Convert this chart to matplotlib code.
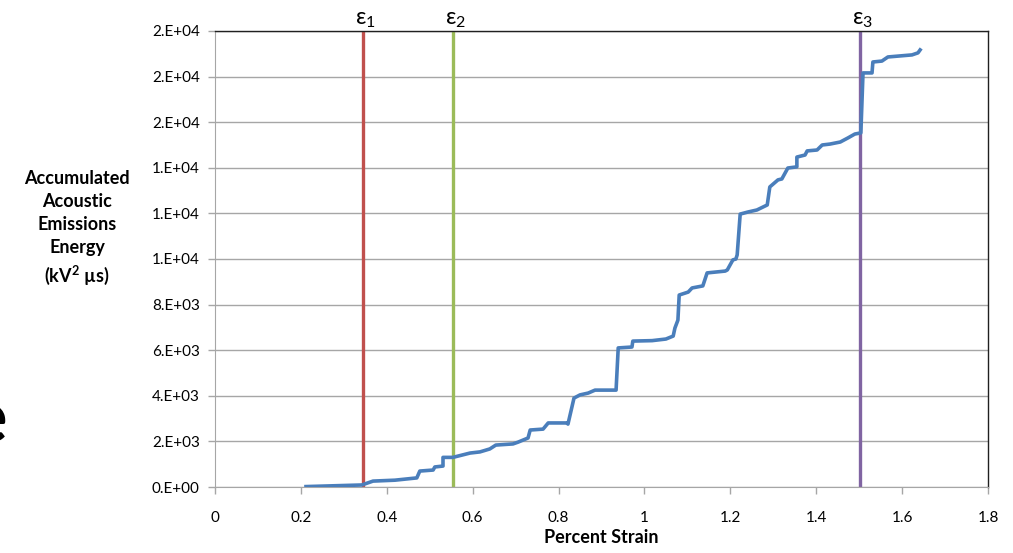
import matplotlib
matplotlib.use('Agg')
import matplotlib.pyplot as plt
import numpy as np

plt.rcParams['font.family'] = ['Lato', 'DejaVu Sans']

# accumulated AE energy vs strain
strain = [0.212, 0.342, 0.368, 0.419, 0.470, 0.477, 0.508, 0.512, 0.531, 0.531,
          0.554, 0.575, 0.594, 0.617, 0.640, 0.654, 0.694, 0.706, 0.729, 0.734,
          0.764, 0.776, 0.820, 0.822, 0.836, 0.850, 0.869, 0.885, 0.934, 0.939,
          0.971, 0.973, 1.018, 1.050, 1.067, 1.071, 1.078, 1.081, 1.102, 1.111,
          1.136, 1.146, 1.188, 1.193, 1.206, 1.213, 1.216, 1.223, 1.241, 1.262,
          1.286, 1.292, 1.311, 1.320, 1.334, 1.355, 1.355, 1.374, 1.379, 1.402,
          1.414, 1.432, 1.456, 1.474, 1.490, 1.504, 1.509, 1.530, 1.532, 1.553,
          1.567, 1.623, 1.637, 1.642]
energy = [20, 90, 260, 300, 400, 700, 745, 880, 920, 1300,
          1300, 1400, 1490, 1540, 1670, 1840, 1890, 1970, 2150, 2500,
          2540, 2810, 2810, 2760, 3900, 4040, 4120, 4250, 4250, 6100,
          6140, 6400, 6420, 6490, 6620, 6970, 7320, 8420, 8550, 8730,
          8820, 9390, 9470, 9520, 9960, 10000, 10180, 11970, 12060, 12150,
          12370, 13160, 13470, 13510, 13990, 14040, 14470, 14560, 14740, 14780,
          15000, 15040, 15130, 15310, 15480, 15530, 18160, 18160, 18640, 18680,
          18860, 18950, 19040, 19170]

eps_pos = [0.345, 0.554, 1.503]
eps_labels = ['ε$_\\mathregular{1}$', 'ε$_\\mathregular{2}$', 'ε$_\\mathregular{3}$']
eps_colors = ['#C0504D', '#9BBB59', '#8064A2']

x_ticks = [0, 0.2, 0.4, 0.6, 0.8, 1, 1.2, 1.4, 1.6, 1.8]
x_ticklabels = ['0', '0.2', '0.4', '0.6', '0.8', '1', '1.2', '1.4', '1.6', '1.8']
y_ticks = [0, 2000, 4000, 6000, 8000, 10000, 12000, 14000, 16000, 18000, 20000]
y_ticklabels = ['0.E+00', '2.E+03', '4.E+03', '6.E+03', '8.E+03', '1.E+04',
                '1.E+04', '1.E+04', '2.E+04', '2.E+04', '2.E+04']

fig = plt.figure(figsize=(10.13, 5.53), dpi=100)
ax = fig.add_axes([0.2122, 0.1193, 0.7631, 0.8247])

ax.set_xlim(0, 1.8)
ax.set_ylim(0, 20000)
ax.set_xticks(x_ticks)
ax.set_xticklabels(x_ticklabels, fontsize=11)
ax.set_yticks(y_ticks)
ax.set_yticklabels(y_ticklabels, fontsize=11)
ax.grid(axis='y', color='#A6A6A6', linewidth=1.0)
ax.set_axisbelow(True)
ax.tick_params(axis='both', direction='out', length=5, color='#A6A6A6', width=1)
ax.tick_params(axis='x', pad=12)
ax.tick_params(axis='y', pad=6)
for s in ['left', 'bottom']:
    ax.spines[s].set_color('#A6A6A6')
for s in ['top', 'right']:
    ax.spines[s].set_color('#202020')
    ax.spines[s].set_linewidth(1.0)

for p, lab, c in zip(eps_pos, eps_labels, eps_colors):
    ax.axvline(p, color=c, linewidth=2.4, zorder=2)
    ax.text(p + 0.005, 1.002, lab, transform=ax.get_xaxis_transform(),
            ha='center', va='bottom', fontsize=16.5)

ax.plot(strain, energy, color='#4A7EBB', linewidth=2.6, zorder=3,
        solid_joinstyle='round')

ax.set_xlabel('Percent Strain', fontsize=13, fontweight='bold', labelpad=3)
fig.text(0.076, 0.587, 'Accumulated\nAcoustic\nEmissions\nEnergy\n(kV$^\\mathregular{2}$ µs)',
         ha='center', va='center', fontsize=13, fontweight='bold', linespacing=1.42)

# leftover glyph from the slide, cut at the left edge
fig.text(-0.031, 0.2, 'e', fontsize=52, fontweight='bold')

fig.savefig('out.png', dpi=100)
